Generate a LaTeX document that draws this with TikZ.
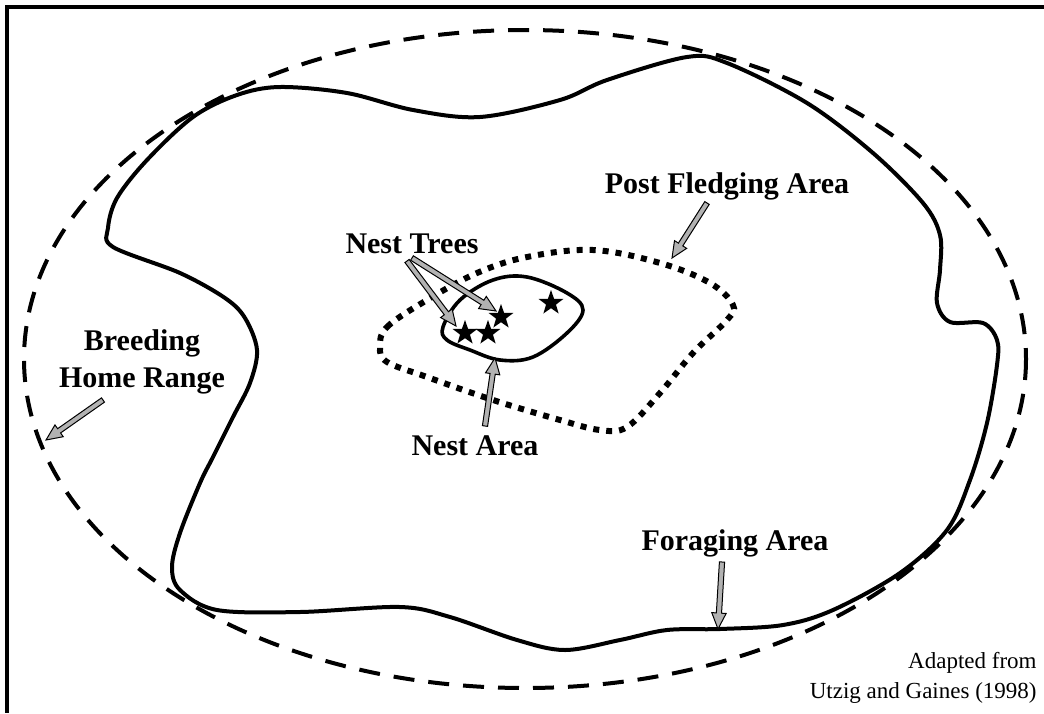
\documentclass[tikz,border=0pt]{standalone}
\usepackage{fontspec}
\setmainfont{Liberation Serif}
\usetikzlibrary{calc,shapes.geometric}

% Gray block arrow with a black outline, from tail #1 to tip #2
\newcommand{\grayarrow}[2]{%
  \path[pointer] let \p1=(#1), \p2=(#2), \p3=($(\p2)!8pt!(\p1)$) in
    ($(\p1)!1.3pt!90:(\p2)$) -- ($(\p3)!1.3pt!90:(\p2)$) -- ($(\p3)!3.6pt!90:(\p2)$)
    -- (\p2)
    -- ($(\p3)!3.6pt!-90:(\p2)$) -- ($(\p3)!1.3pt!-90:(\p2)$) -- ($(\p1)!1.3pt!-90:(\p2)$)
    -- cycle;}

\begin{document}
\begin{tikzpicture}[x=0.5pt,y=-0.5pt,
  boundary/.style={line width=2pt, line join=round},
  homerange/.style={line width=2pt, dash pattern=on 10.5pt off 7pt},
  pfa/.style={line width=3pt, dash pattern=on 3pt off 3.5pt},
  areatext/.style={font=\bfseries\fontsize{15}{18.5}\selectfont, align=center, inner sep=0},
  credit/.style={font=\fontsize{11.5}{15}\selectfont, align=right, inner sep=0},
  pointer/.style={draw=black, fill=gray!60, line width=0.5pt, line join=miter},
  nesttree/.style={star, star points=5, star point ratio=2.5, fill=black, inner sep=0, minimum size=13pt}
]
\useasboundingbox (0,0) rectangle (1044,713);
\fill[white] (0,0) rectangle (1044,713);

% frame
\draw[line width=2pt] (1044,7) -- (7,7) -- (7,713);

% breeding home range
\draw[homerange] (525,359) ellipse [x radius=501, y radius=329];

% foraging area
\draw[boundary] plot[smooth cycle, tension=0.55] coordinates {
  (108,228) (117,198) (147,160) (193,117) (237,95) (280,87) (347,93)
  (413,110) (480,117) (560,100) (607,80) (687,57) (727,63) (807,103)
  (873,153) (923,203) (940,235) (940,270) (937,303) (950,322) (983,323)
  (997,340) (997,365) (987,423) (970,480) (947,530) (900,573) (833,610)
  (783,625) (720,629) (667,630) (620,640) (565,650) (517,640) (450,617)
  (400,607) (300,612) (217,610) (180,590) (172,567) (180,533) (200,483)
  (213,457) (233,417) (250,383) (257,350) (245,318) (225,298) (180,273)
  (113,247)};

% post fledging area
\draw[pfa] plot[smooth cycle, tension=0.6] coordinates {
  (380,347) (387,327) (427,300) (477,273) (527,257) (593,250) (660,263)
  (710,283) (733,305) (727,320) (693,353) (660,393) (627,427) (600,430)
  (560,420) (493,400) (427,377) (387,362)};

% nest area
\draw[boundary, line width=1.8pt] plot[smooth cycle, tension=0.6] coordinates {
  (443,327) (460,300) (493,280) (527,277) (567,293) (583,310) (567,333)
  (533,357) (500,360) (470,350) (447,340)};

% nest trees
\node[nesttree] (t1) at (465,333) {};
\node[nesttree] (t2) at (488,333) {};
\node[nesttree] (t3) at (501,317) {};
\node[nesttree] (t4) at (551,303) {};

% labels
\node[areatext] (lpfa)   at (727,186) {Post Fledging Area};
\node[areatext] (ltrees) at (412,244) {Nest Trees};
\node[areatext] (lnest)  at (475,446) {Nest Area};
\node[areatext] (lhome)  at (142,362) {Breeding\\Home Range};
\node[areatext] (lforage) at (735,543) {Foraging Area};
\node[credit, anchor=east] (src) at (1037,678) {Adapted from\\Utzig and Gaines (1998)};

% arrow ends
\coordinate (pfatail) at (707,203);  \coordinate (pfatip) at (672,258);
\coordinate (trtailA) at (407,261);  \coordinate (trtipA) at (456,326);
\coordinate (trtailB) at (412,258);  \coordinate (trtipB) at (496,311);
\coordinate (natail) at (485,426);   \coordinate (natip) at (495,358);
\coordinate (hrtail) at (103,400);   \coordinate (hrtip) at (46,440);
\coordinate (fatail) at (722,562);   \coordinate (fatip) at (718,629);

\grayarrow{pfatail}{pfatip}
\grayarrow{trtailA}{trtipA}
\grayarrow{trtailB}{trtipB}
\grayarrow{natail}{natip}
\grayarrow{hrtail}{hrtip}
\grayarrow{fatail}{fatip}
\end{tikzpicture}
\end{document}
